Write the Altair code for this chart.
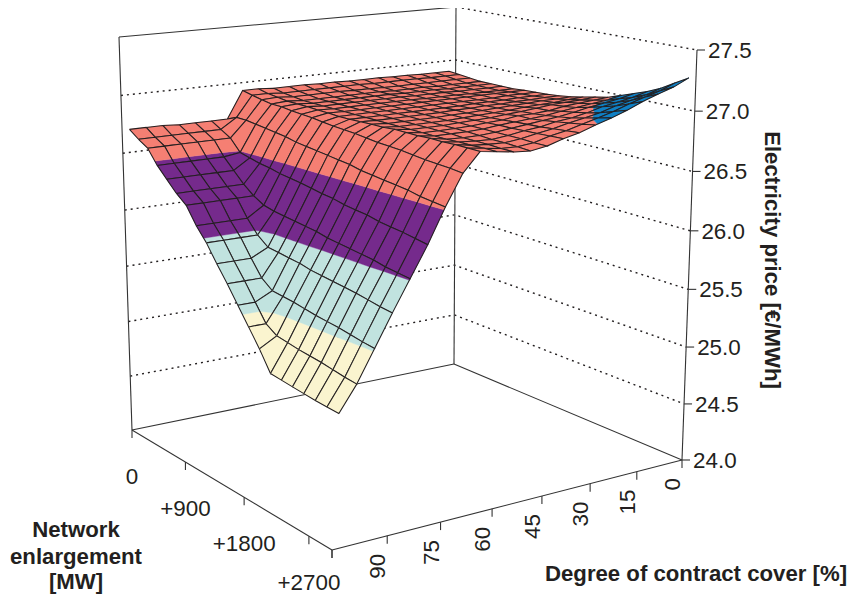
import numpy as np
import altair as alt

COVER = [105, 100, 95, 90, 85, 80, 75, 70, 65, 60, 55, 50, 45, 40, 35, 30, 25, 20, 15, 10, 5, 0]
NETWORK = [0, 150, 300, 450, 600, 750, 900, 1050, 1200, 1350, 1500, 1650, 1800, 1950, 2100, 2250, 2400, 2550, 2700, 2850, 3000]

PRICE = [
    [26.70, 26.70, 26.70, 26.69, 26.69, 26.69, 26.69, 26.93, 26.93, 26.92, 26.92, 26.92, 26.915, 26.915, 26.91, 26.91, 26.91, 26.905, 26.905, 26.90, 26.90, 26.90],
    [26.64, 26.64, 26.64, 26.64, 26.64, 26.64, 26.73, 26.91, 26.91, 26.90, 26.90, 26.90, 26.90, 26.90, 26.90, 26.895, 26.895, 26.895, 26.895, 26.89, 26.89, 26.89],
    [26.59, 26.59, 26.59, 26.59, 26.59, 26.59, 26.73, 26.895, 26.90, 26.89, 26.89, 26.89, 26.89, 26.885, 26.885, 26.88, 26.88, 26.88, 26.88, 26.88, 26.88, 26.88],
    [26.47, 26.47, 26.47, 26.47, 26.47, 26.49, 26.72, 26.88, 26.89, 26.88, 26.88, 26.88, 26.88, 26.88, 26.88, 26.875, 26.875, 26.875, 26.87, 26.87, 26.87, 26.87],
    [26.38, 26.38, 26.38, 26.38, 26.38, 26.47, 26.71, 26.88, 26.89, 26.88, 26.88, 26.88, 26.88, 26.88, 26.88, 26.875, 26.875, 26.875, 26.87, 26.87, 26.87, 26.87],
    [26.29, 26.29, 26.29, 26.29, 26.29, 26.45, 26.70, 26.87, 26.89, 26.88, 26.88, 26.88, 26.88, 26.88, 26.88, 26.875, 26.875, 26.875, 26.87, 26.87, 26.87, 26.87],
    [26.22, 26.22, 26.22, 26.22, 26.22, 26.44, 26.69, 26.865, 26.885, 26.88, 26.88, 26.88, 26.88, 26.88, 26.88, 26.875, 26.875, 26.875, 26.87, 26.87, 26.87, 26.87],
    [26.08, 26.08, 26.08, 26.08, 26.17, 26.42, 26.67, 26.86, 26.885, 26.88, 26.88, 26.88, 26.88, 26.88, 26.88, 26.88, 26.88, 26.88, 26.88, 26.88, 26.88, 26.88],
    [25.97, 25.97, 25.97, 25.97, 26.15, 26.41, 26.66, 26.85, 26.88, 26.88, 26.88, 26.88, 26.88, 26.88, 26.88, 26.88, 26.88, 26.88, 26.88, 26.885, 26.885, 26.885],
    [25.83, 25.83, 25.83, 25.90, 26.14, 26.40, 26.65, 26.84, 26.88, 26.88, 26.88, 26.88, 26.88, 26.88, 26.88, 26.88, 26.885, 26.885, 26.885, 26.89, 26.89, 26.89],
    [25.70, 25.70, 25.70, 25.89, 26.13, 26.385, 26.64, 26.835, 26.885, 26.88, 26.88, 26.88, 26.88, 26.88, 26.885, 26.885, 26.89, 26.89, 26.895, 26.895, 26.90, 26.90],
    [25.56, 25.56, 25.63, 25.88, 26.12, 26.37, 26.63, 26.83, 26.89, 26.88, 26.88, 26.88, 26.88, 26.885, 26.885, 26.89, 26.895, 26.90, 26.905, 26.91, 26.91, 26.915],
    [25.42, 25.42, 25.62, 25.87, 26.11, 26.36, 26.62, 26.82, 26.89, 26.88, 26.88, 26.88, 26.88, 26.885, 26.89, 26.895, 26.90, 26.91, 26.915, 26.92, 26.93, 26.935],
    [25.28, 25.36, 25.61, 25.85, 26.09, 26.34, 26.60, 26.81, 26.90, 26.88, 26.88, 26.88, 26.885, 26.89, 26.895, 26.905, 26.915, 26.925, 26.94, 26.945, 26.95, 26.96],
    [25.12, 25.345, 25.595, 25.84, 26.08, 26.33, 26.59, 26.805, 26.90, 26.88, 26.88, 26.88, 26.885, 26.895, 26.90, 26.92, 26.92, 26.93, 26.95, 26.96, 26.97, 26.98],
    [25.11, 25.33, 25.58, 25.83, 26.07, 26.32, 26.58, 26.80, 26.90, 26.88, 26.88, 26.88, 26.885, 26.90, 26.91, 26.92, 26.93, 26.95, 26.965, 26.98, 26.995, 27.02],
    [25.10, 25.32, 25.57, 25.82, 26.06, 26.30, 26.57, 26.79, 26.905, 26.88, 26.875, 26.875, 26.885, 26.90, 26.915, 26.93, 26.945, 26.965, 26.99, 27.01, 27.03, 27.06],
    [25.09, 25.31, 25.56, 25.81, 26.05, 26.29, 26.56, 26.78, 26.905, 26.885, 26.875, 26.87, 26.885, 26.905, 26.92, 26.945, 26.96, 26.985, 27.02, 27.04, 27.065, 27.10],
    [25.08, 25.295, 25.545, 25.795, 26.03, 26.28, 26.54, 26.775, 26.91, 26.885, 26.875, 26.87, 26.885, 26.91, 26.93, 26.96, 26.985, 27.01, 27.05, 27.08, 27.11, 27.15],
    [25.075, 25.28, 25.53, 25.78, 26.02, 26.265, 26.53, 26.77, 26.91, 26.89, 26.87, 26.865, 26.88, 26.915, 26.94, 26.975, 27.01, 27.045, 27.09, 27.13, 27.165, 27.215],
    [25.07, 25.27, 25.52, 25.77, 26.01, 26.25, 26.52, 26.76, 26.91, 26.89, 26.87, 26.86, 26.88, 26.92, 26.95, 26.995, 27.035, 27.08, 27.135, 27.18, 27.22, 27.28],
]

PRICE_TICKS = [24.0, 24.5, 25.0, 25.5, 26.0, 26.5, 27.0, 27.5]
COVER_TICKS = [0, 15, 30, 45, 60, 75, 90]
NETWORK_TICKS = [0, 900, 1800, 2700]
NETWORK_LABELS = ["0", "+900", "+1800", "+2700"]
BANDS = [(25.0, 25.5, "#FAF4CF"), (25.5, 26.0, "#C1E3DF"), (26.0, 26.5, "#752A8C"),
         (26.5, 27.0, "#F57F73"), (27.0, 27.5, "#0F80C4")]
INK = "#231F20"

# Camera: box corners (cover position, network position, price position) -> picture
BOX = [((0, 0, 0), (132, 430)), ((0, 1, 0), (332, 550)), ((1, 1, 0), (682, 460)), ((1, 0, 0), (454, 364)),
       ((0, 0, 1), (119, 37)), ((1, 0, 1), (456, 7)), ((1, 1, 1), (697, 50))]
rows, rhs = [], []
for (X, Y, Z), (x, y) in BOX:
    rows.append([X, Y, Z, 1, 0, 0, 0, 0, -x * X, -x * Y, -x * Z]); rhs.append(x)
    rows.append([0, 0, 0, 0, X, Y, Z, 1, -y * X, -y * Y, -y * Z]); rhs.append(y)
cam = np.append(np.linalg.lstsq(np.array(rows, float), np.array(rhs, float), rcond=None)[0], 1).reshape(3, 4)
INSET0, INSET1 = 0.02, 0.978


def raw(u, v, w):
    p = cam @ np.array([u, v, w, 1.0])
    return np.array([p[0] / p[2], p[1] / p[2]])


RES = {c: np.array(t, float) - raw(*c) for c, t in BOX}
RES[(0, 1, 1)] = RES[(0, 1, 0)]


def proj(u, v, w):
    r = np.zeros(2)
    for a in (0, 1):
        for b in (0, 1):
            for c in (0, 1):
                r = r + RES[(a, b, c)] * (u if a else 1 - u) * (v if b else 1 - v) * (w if c else 1 - w)
    p = raw(u, v, w) + r
    return [float(p[0]) - 8, float(p[1]) - 8]


def pu(c):
    return (105 - c) / 105


def pv(n):
    return n / 3000


def pw(z):
    return (z - 24) / 3.5


def su(c):
    return INSET0 + pu(c) * (INSET1 - INSET0)


def line(pts, **props):
    return {"type": "Feature", "properties": props, "geometry": {"type": "LineString", "coordinates": pts}}


def clip(poly, level, keep_above):
    out = []
    for a, b in zip(poly, poly[1:] + poly[:1]):
        ina = a[2] >= level if keep_above else a[2] <= level
        inb = b[2] >= level if keep_above else b[2] <= level
        if ina:
            out.append(a)
        if ina != inb:
            t = (level - a[2]) / (b[2] - a[2])
            out.append(tuple(a[j] + t * (b[j] - a[j]) for j in range(3)))
    return out


surface = []
for k in range(len(NETWORK) - 1):
    for i in range(len(COVER) - 2, -1, -1):
        quad = [(su(COVER[ii]), pv(NETWORK[kk]), PRICE[kk][ii])
                for kk, ii in [(k, i), (k, i + 1), (k + 1, i + 1), (k + 1, i)]]
        for lo, hi, col in BANDS:
            piece = clip(clip(quad, lo, True), hi, False) if min(q[2] for q in quad) < hi and max(q[2] for q in quad) > lo else []
            if len(piece) >= 3:
                ring = [proj(a, b, pw(z)) for a, b, z in piece]
                ring.append(ring[0])
                surface.append({"type": "Feature", "properties": {"fill": col, "stroke": col, "sw": 0.4},
                                "geometry": {"type": "Polygon", "coordinates": [ring]}})
        ring = [proj(a, b, pw(z)) for a, b, z in quad]
        ring.append(ring[0])
        surface.append(line(ring, fill="none", stroke=INK, sw=1.05))

dotted = []
for z in PRICE_TICKS[1:-1]:
    w = pw(z)
    dotted.append(line([proj(0, 0, w), proj(1, 0, w), proj(1, 1, w)]))
dotted.append(line([proj(1, 0, 1), proj(1, 1, 1)]))

solid = []
for a, b in [((0, 0, 0), (0, 1, 0)), ((0, 1, 0), (1, 1, 0)), ((1, 1, 0), (1, 0, 0)), ((1, 0, 0), (0, 0, 0)),
             ((0, 0, 0), (0, 0, 1)), ((1, 0, 0), (1, 0, 1)), ((1, 1, 0), (1, 1, 1)), ((0, 0, 1), (1, 0, 1))]:
    solid.append(line([proj(*a), proj(*b)]))
for z in PRICE_TICKS:
    x, y = proj(1, 1, pw(z))
    solid.append(line([[x, y], [x + 8, y]]))
for c in COVER_TICKS + [105]:
    x, y = proj(pu(c), 1, 0)
    solid.append(line([[x, y], [x, y + 8]]))
for n in NETWORK_TICKS + [3000]:
    x, y = proj(0, pv(n), 0)
    solid.append(line([[x, y], [x, y + 8]]))

price_labels = [{"t": f"{z:.1f}", "x": proj(1, 1, pw(z))[0] + 11, "y": proj(1, 1, pw(z))[1] + 1} for z in PRICE_TICKS]
cover_labels = [{"t": str(c), "x": proj(pu(c), 1, 0)[0] - 9, "y": proj(pu(c), 1, 0)[1] + 18} for c in COVER_TICKS]
net_labels = [{"t": s, "x": proj(0, pv(n), 0)[0], "y": proj(0, pv(n), 0)[1] + 47} for n, s in zip(NETWORK_TICKS, NETWORK_LABELS)]
titles = [{"t": "Network", "x": 68, "y": 522, "a": 0}, {"t": "enlargement", "x": 68, "y": 549, "a": 0},
          {"t": "[MW]", "x": 68, "y": 574, "a": 0}, {"t": "Degree of contract cover [%]", "x": 688, "y": 566, "a": 0},
          {"t": "Electricity price [€/MWh]", "x": 764, "y": 252, "a": 90}]

PROJ = dict(type="identity", scale=1, translate=[0, 0])


def shapes(features, **mark):
    return alt.Chart(alt.Data(values=features)).mark_geoshape(**mark).project(**PROJ)


def texts(rowsdata, **mark):
    return alt.Chart(alt.Data(values=rowsdata)).mark_text(font="Liberation Sans", color=INK, baseline="middle", **mark).encode(
        x=alt.X("x:Q", scale=None, axis=None), y=alt.Y("y:Q", scale=None, axis=None), text="t:N")


chart = alt.layer(
    shapes(dotted, filled=False, stroke=INK, strokeWidth=1.4, strokeDash=[2, 4]),
    shapes(solid, filled=False, stroke="#333333", strokeWidth=1.1),
    shapes(surface).encode(
        fill=alt.Fill("properties.fill:N", scale=None),
        stroke=alt.Stroke("properties.stroke:N", scale=None),
        strokeWidth=alt.StrokeWidth("properties.sw:Q", scale=None),
    ),
    texts(price_labels, fontSize=22.4, align="left"),
    texts(cover_labels, fontSize=22.4, align="right", angle=270),
    texts(net_labels, fontSize=22.4, align="center"),
    texts(titles, fontSize=22.2, fontWeight="bold", align="center").encode(angle=alt.Angle("a:Q", scale=None)),
).properties(width=840, height=586, padding=0, autosize="none").configure_view(stroke=None)

chart.save("out.html", embed_options={"renderer": "svg", "actions": False})
